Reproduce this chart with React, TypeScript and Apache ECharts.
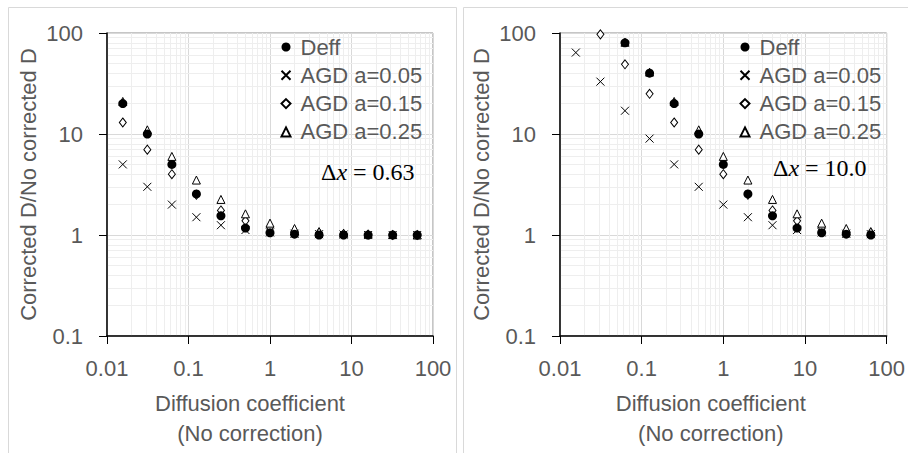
import React, { useEffect, useRef } from "react";
import * as echarts from "echarts";

// Diffusion coefficient (no correction) – shared x positions
const xValues = [0.015625, 0.03125, 0.0625, 0.125, 0.25, 0.5, 1, 2, 4, 8, 16, 32, 64];

// Left panel (Δx = 0.63)
const deffLeft = [20, 10, 5, 2.55, 1.55, 1.17, 1.05, 1.02, 1.0, 1.0, 1.0, 1.0, 1.0];
const agd05Left = [5, 3, 2, 1.5, 1.25, 1.12, 1.06, 1.03, 1.02, 1.01, 1.0, 1.0, 1.0];
const agd15Left = [13, 7, 4, 2.5, 1.75, 1.38, 1.19, 1.09, 1.05, 1.02, 1.01, 1.0, 1.0];
const agd25Left = [21, 11, 6, 3.5, 2.25, 1.62, 1.31, 1.16, 1.08, 1.04, 1.02, 1.01, 1.0];

// Right panel (Δx = 10.0) – null where the point lies above the plot
const deffRight = [null, null, 80, 40, 20, 10, 5, 2.55, 1.55, 1.17, 1.05, 1.02, 1.0];
const agd05Right = [64, 33, 17, 9, 5, 3, 2, 1.5, 1.25, 1.12, 1.06, 1.03, 1.02];
const agd15Right = [null, 97, 49, 25, 13, 7, 4, 2.5, 1.75, 1.38, 1.19, 1.09, 1.05];
const agd25Right = [null, null, 81, 41, 21, 11, 6, 3.5, 2.25, 1.62, 1.31, 1.16, 1.08];

const seriesNames = ["Deff", "AGD a=0.05", "AGD a=0.15", "AGD a=0.25"];
const annotations = ["0.63", "10.0"];

const xMinorTicks = [0.01, 0.1, 1, 10].flatMap((d) => [2, 3, 4, 5, 6, 7, 8, 9].map((m) => +(m * d).toPrecision(6)));
const yMinorTicks = [0.1, 1, 10].flatMap((d) => [2, 3, 4, 5, 6, 7, 8, 9].map((m) => +(m * d).toPrecision(6)));

const FONT = "Liberation Sans";
const GREY = "#595959";

function pairs(ys: (number | null)[]) {
  const out: number[][] = [];
  ys.forEach((y, i) => {
    if (y !== null) out.push([xValues[i], y]);
  });
  return out;
}

const CROSS = "path://M0,0L10,10M0,10L10,0";

function makeSeries(idx: number, sets: (number | null)[][]) {
  const styles: any[] = [
    { symbol: "circle", symbolSize: 9, itemStyle: { color: "#000", borderColor: "#000", borderWidth: 0, opacity: 1 }, z: 12 },
    { symbol: CROSS, symbolSize: 8, itemStyle: { color: "transparent", borderColor: "#000", borderWidth: 1, opacity: 1 }, z: 10 },
    { symbol: "diamond", symbolSize: [7, 9], itemStyle: { color: "#fff", borderColor: "#000", borderWidth: 1, opacity: 1 }, z: 10 },
    { symbol: "triangle", symbolSize: 8, itemStyle: { color: "#fff", borderColor: "#000", borderWidth: 1, opacity: 1 }, z: 10 },
  ];
  return sets.map((ys, k) => ({
    type: "scatter",
    name: seriesNames[k],
    xAxisIndex: idx,
    yAxisIndex: idx,
    data: pairs(ys),
    ...styles[k],
  }));
}

function minorGridSeries(idx: number) {
  return {
    type: "scatter",
    xAxisIndex: idx,
    yAxisIndex: idx,
    data: [],
    silent: true,
    z: 0,
    markLine: {
      z: 0,
      silent: true,
      symbol: ["none", "none"],
      animation: false,
      label: { show: false },
      lineStyle: { color: "#eeeeee", type: "solid", width: 1 },
      emphasis: { disabled: true },
      data: [...xMinorTicks.map((v) => ({ xAxis: v })), ...yMinorTicks.map((v) => ({ yAxis: v }))],
    },
  };
}

const fmt = (v: number) => String(+v.toPrecision(6));

export default function App() {
  const ref = useRef<HTMLDivElement>(null);
  useEffect(() => {
    if (!ref.current) return;
    const chart = echarts.init(ref.current, undefined, { renderer: "svg" });
    const grids = [
      { left: 107, top: 33, width: 326, height: 308 },
      { left: 560, top: 33, width: 327, height: 308 },
    ];
    const xNamePad = [40, 25];
    const legendLeft = [280.5, 739.5];
    const annX = [321, 773];
    const annY = [172, 168];
    const option: any = {
      animation: false,
      textStyle: { fontFamily: FONT },
      grid: grids.map((g) => ({ ...g, show: true, borderColor: "#8c8c8c", borderWidth: 1, backgroundColor: "transparent" })),
      xAxis: [0, 1].map((i) => ({
        type: "log",
        logBase: 10,
        gridIndex: i,
        min: 0.01,
        max: 100,
        axisLine: { show: true, onZero: false, lineStyle: { color: "#000", width: 1.5 } },
        axisTick: { show: true, length: 8, lineStyle: { color: "#000", width: 1 } },
        axisLabel: { fontSize: 22, color: GREY, margin: 21, fontFamily: FONT, formatter: fmt },
        splitLine: { show: true, lineStyle: { color: "#d9d9d9", width: 1 } },
        name: "Diffusion coefficient\n(No correction)",
        nameLocation: "middle",
        nameGap: 52,
        nameTextStyle: { fontSize: 22, lineHeight: 30, color: GREY, fontFamily: FONT, padding: [0, xNamePad[i], 0, 0] },
      })),
      yAxis: [0, 1].map((i) => ({
        type: "log",
        logBase: 10,
        gridIndex: i,
        min: 0.1,
        max: 100,
        axisLine: { show: true, onZero: false, lineStyle: { color: "#000", width: 1.5 } },
        axisTick: { show: true, length: 8, lineStyle: { color: "#000", width: 1 } },
        axisLabel: { fontSize: 22, color: GREY, margin: 24, fontFamily: FONT, formatter: fmt },
        splitLine: { show: true, lineStyle: { color: "#d9d9d9", width: 1 } },
        name: "Corrected D/No corrected D",
        nameLocation: "middle",
        nameGap: 68,
        nameTextStyle: { fontSize: 22, color: GREY, fontFamily: FONT },
      })),
      legend: [0, 1].map((i) => ({
        orient: "vertical",
        left: legendLeft[i],
        top: 36,
        itemWidth: 9,
        itemHeight: 9,
        itemGap: 6.3,
        padding: 0,
        z: 15,
        selectedMode: false,
        data: seriesNames,
        textStyle: { fontSize: 22, lineHeight: 22, color: GREY, fontFamily: FONT, padding: [0, 0, 0, 5] },
      })),
      graphic: [
        { type: "rect", z: -10, shape: { x: 8.5, y: 7.5, width: 448, height: 500 }, style: { fill: "none", stroke: "#d9d9d9", lineWidth: 1 } },
        { type: "rect", z: -10, shape: { x: 463.5, y: 7.5, width: 500, height: 500 }, style: { fill: "none", stroke: "#d9d9d9", lineWidth: 1 } },
        ...[0, 1].map((i) => ({
          type: "text",
          x: annX[i],
          y: annY[i],
          z: 15,
          style: {
            text: "{n|Δ}{i|x}{n| = " + annotations[i] + "}",
            align: "left",
            verticalAlign: "middle",
            rich: {
              n: { fontFamily: "Liberation Serif", fontSize: 24, fill: "#000" },
              i: { fontFamily: "Liberation Serif", fontSize: 24, fontStyle: "italic", fill: "#000" },
            },
          },
        })),
      ],
      series: [
        minorGridSeries(0),
        minorGridSeries(1),
        ...makeSeries(0, [deffLeft, agd05Left, agd15Left, agd25Left]),
        ...makeSeries(1, [deffRight, agd05Right, agd15Right, agd25Right]),
      ],
    };
    chart.setOption(option);
    return () => chart.dispose();
  }, []);
  return (
    <div
      ref={ref}
      style={{ position: "fixed", left: 0, top: 0, width: 908, height: 453, background: "#fff" }}
    />
  );
}
